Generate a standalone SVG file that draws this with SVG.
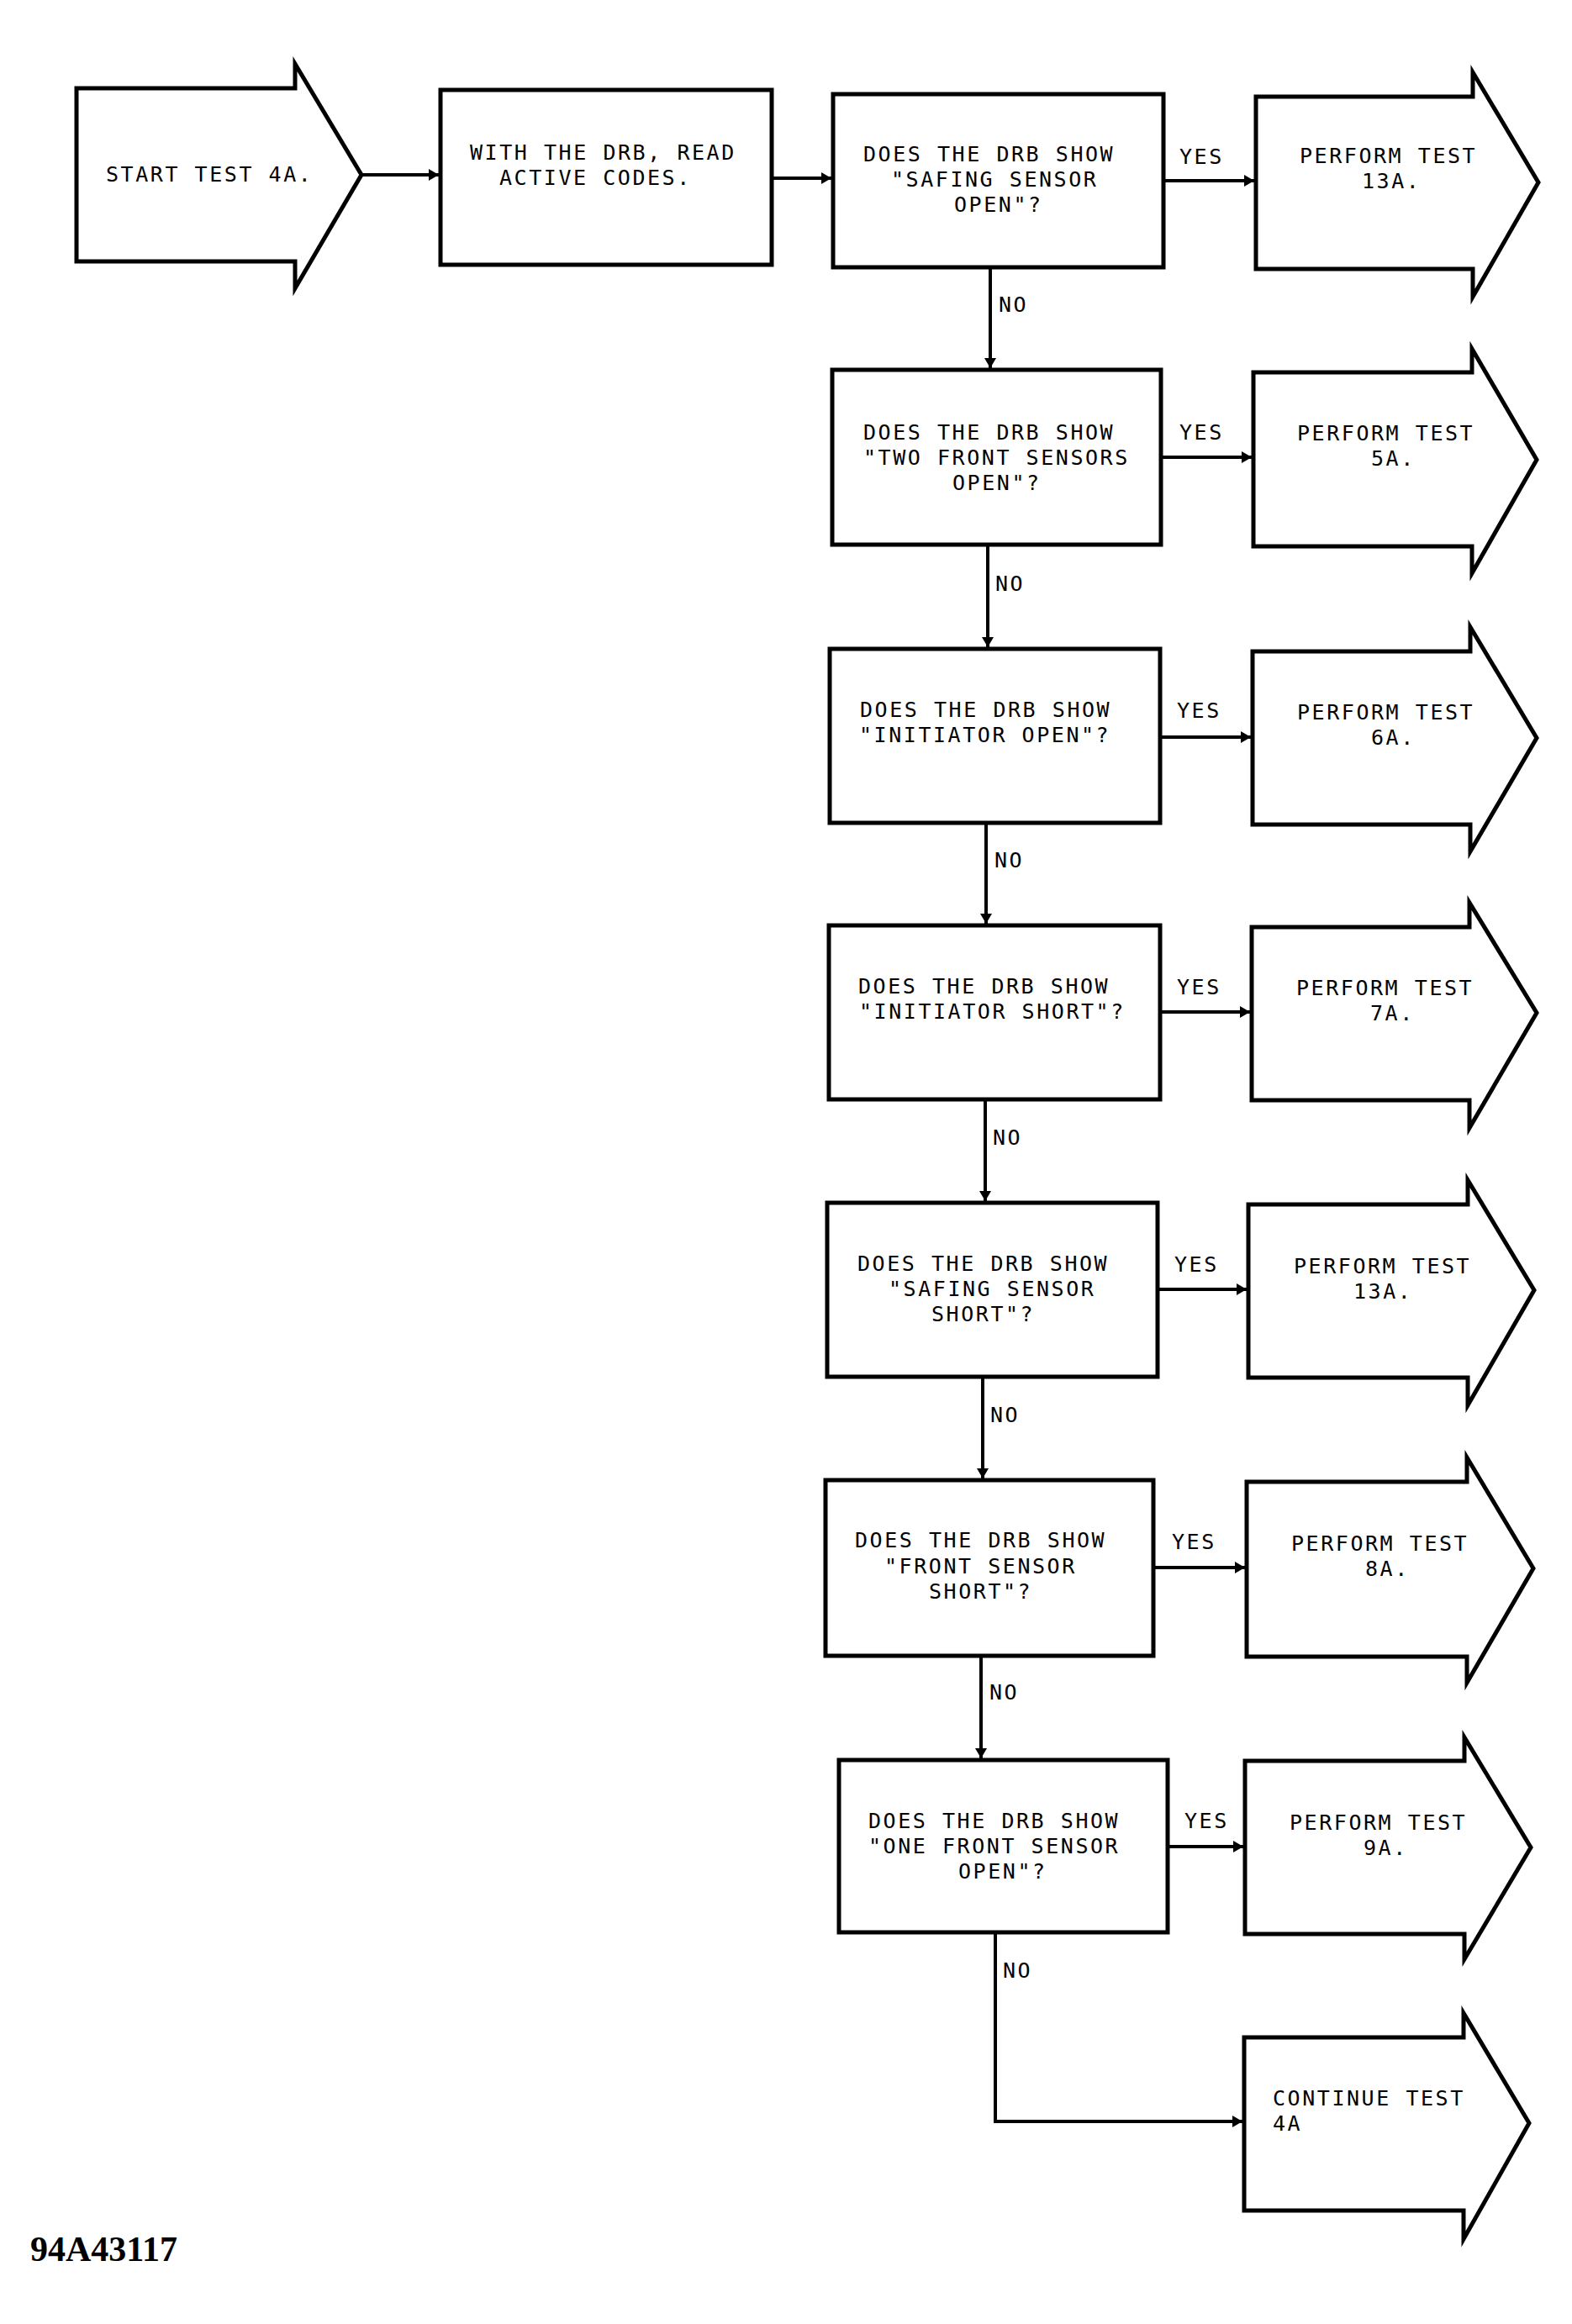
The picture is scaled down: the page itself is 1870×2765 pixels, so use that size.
<svg xmlns="http://www.w3.org/2000/svg" width="1870" height="2765" viewBox="0 0 1870 2765">
<style>
.shape{fill:#fff;stroke:#000;stroke-width:5;stroke-linejoin:miter}
.conn{fill:none;stroke:#000;stroke-width:4}
.t{font-family:"DejaVu Sans Mono","Liberation Mono",monospace;font-size:25px;letter-spacing:2.55px;fill:#000}
.code{font-family:"Liberation Serif","Times New Roman",serif;font-size:42px;font-weight:bold;fill:#000}
</style>
<defs>
<marker id="ah" viewBox="0 0 12 14" refX="12" refY="7" markerWidth="12" markerHeight="14" markerUnits="userSpaceOnUse" orient="auto">
<path d="M0,0 L12,7 L0,14 z" fill="#000"/>
</marker>
</defs>
<rect width="1870" height="2765" fill="#fff"/>

<g id="connectors">
<line class="conn" x1="430" y1="208" x2="522" y2="208" marker-end="url(#ah)"/>
<line class="conn" x1="918" y1="212" x2="989" y2="212" marker-end="url(#ah)"/>
<line class="conn" x1="1384" y1="215" x2="1492" y2="215" marker-end="url(#ah)"/>
<line class="conn" x1="1178" y1="318" x2="1178" y2="438" marker-end="url(#ah)"/>
<line class="conn" x1="1381" y1="544" x2="1489" y2="544" marker-end="url(#ah)"/>
<line class="conn" x1="1175" y1="648" x2="1175" y2="770" marker-end="url(#ah)"/>
<line class="conn" x1="1380" y1="877" x2="1488" y2="877" marker-end="url(#ah)"/>
<line class="conn" x1="1173" y1="979" x2="1173" y2="1099" marker-end="url(#ah)"/>
<line class="conn" x1="1380" y1="1204" x2="1487" y2="1204" marker-end="url(#ah)"/>
<line class="conn" x1="1172" y1="1308" x2="1172" y2="1429" marker-end="url(#ah)"/>
<line class="conn" x1="1377" y1="1534" x2="1483" y2="1534" marker-end="url(#ah)"/>
<line class="conn" x1="1169" y1="1638" x2="1169" y2="1759" marker-end="url(#ah)"/>
<line class="conn" x1="1372" y1="1865" x2="1481" y2="1865" marker-end="url(#ah)"/>
<line class="conn" x1="1167" y1="1970" x2="1167" y2="2092" marker-end="url(#ah)"/>
<line class="conn" x1="1389" y1="2197" x2="1479" y2="2197" marker-end="url(#ah)"/>
<polyline class="conn" points="1184,2299 1184,2524 1478,2524" marker-end="url(#ah)"/>
</g>

<g id="start">
<polygon class="shape" points="91,105 351,105 351,76 430,208 351,343 351,311 91,311"/>
<text class="t" x="126" y="216">START TEST 4A.</text>
</g>

<g id="read-codes">
<rect class="shape" x="524" y="107" width="394" height="208"/>
<text class="t" x="559" y="190">WITH THE DRB, READ</text>
<text class="t" x="594" y="220">ACTIVE CODES.</text>
</g>

<g id="q1">
<rect class="shape" x="991" y="112" width="393" height="206"/>
<text class="t" x="1027" y="192">DOES THE DRB SHOW</text>
<text class="t" x="1060" y="222">"SAFING SENSOR</text>
<text class="t" x="1135" y="252">OPEN"?</text>
</g>
<g id="r1">
<polygon class="shape" points="1494,115 1752,115 1752,86 1830,217 1752,353 1752,320 1494,320"/>
<text class="t" x="1546" y="194">PERFORM TEST</text>
<text class="t" x="1620" y="224">13A.</text>
</g>

<g id="q2">
<rect class="shape" x="990" y="440" width="391" height="208"/>
<text class="t" x="1027" y="523">DOES THE DRB SHOW</text>
<text class="t" x="1027" y="553">"TWO FRONT SENSORS</text>
<text class="t" x="1133" y="583">OPEN"?</text>
</g>
<g id="r2">
<polygon class="shape" points="1491,443 1751,443 1751,415 1828,547 1751,682 1751,650 1491,650"/>
<text class="t" x="1543" y="524">PERFORM TEST</text>
<text class="t" x="1631" y="554">5A.</text>
</g>

<g id="q3">
<rect class="shape" x="987" y="772" width="393" height="207"/>
<text class="t" x="1023" y="853">DOES THE DRB SHOW</text>
<text class="t" x="1022" y="883">"INITIATOR OPEN"?</text>
</g>
<g id="r3">
<polygon class="shape" points="1490,775 1749,775 1749,746 1828,878 1749,1013 1749,981 1490,981"/>
<text class="t" x="1543" y="856">PERFORM TEST</text>
<text class="t" x="1631" y="886">6A.</text>
</g>

<g id="q4">
<rect class="shape" x="986" y="1101" width="394" height="207"/>
<text class="t" x="1021" y="1182">DOES THE DRB SHOW</text>
<text class="t" x="1022" y="1212">"INITIATOR SHORT"?</text>
</g>
<g id="r4">
<polygon class="shape" points="1489,1103 1748,1103 1748,1074 1828,1205 1748,1342 1748,1309 1489,1309"/>
<text class="t" x="1542" y="1184">PERFORM TEST</text>
<text class="t" x="1630" y="1214">7A.</text>
</g>

<g id="q5">
<rect class="shape" x="984" y="1431" width="393" height="207"/>
<text class="t" x="1020" y="1512">DOES THE DRB SHOW</text>
<text class="t" x="1057" y="1542">"SAFING SENSOR</text>
<text class="t" x="1108" y="1572">SHORT"?</text>
</g>
<g id="r5">
<polygon class="shape" points="1485,1433 1746,1433 1746,1404 1825,1535 1746,1672 1746,1639 1485,1639"/>
<text class="t" x="1539" y="1515">PERFORM TEST</text>
<text class="t" x="1610" y="1545">13A.</text>
</g>

<g id="q6">
<rect class="shape" x="982" y="1761" width="390" height="209"/>
<text class="t" x="1017" y="1841">DOES THE DRB SHOW</text>
<text class="t" x="1052" y="1872">"FRONT SENSOR</text>
<text class="t" x="1105" y="1902">SHORT"?</text>
</g>
<g id="r6">
<polygon class="shape" points="1483,1763 1745,1763 1745,1734 1824,1866 1745,2002 1745,1971 1483,1971"/>
<text class="t" x="1536" y="1845">PERFORM TEST</text>
<text class="t" x="1624" y="1875">8A.</text>
</g>

<g id="q7">
<rect class="shape" x="998" y="2094" width="391" height="205"/>
<text class="t" x="1033" y="2175">DOES THE DRB SHOW</text>
<text class="t" x="1033" y="2205">"ONE FRONT SENSOR</text>
<text class="t" x="1140" y="2235">OPEN"?</text>
</g>
<g id="r7">
<polygon class="shape" points="1481,2095 1742,2095 1742,2067 1821,2198 1742,2331 1742,2301 1481,2301"/>
<text class="t" x="1534" y="2177">PERFORM TEST</text>
<text class="t" x="1622" y="2207">9A.</text>
</g>

<g id="continue">
<polygon class="shape" points="1480,2424 1741,2424 1741,2395 1819,2526 1741,2664 1741,2630 1480,2630"/>
<text class="t" x="1514" y="2505">CONTINUE TEST</text>
<text class="t" x="1514" y="2535">4A</text>
</g>

<g id="labels">
<text class="t" x="1403" y="195">YES</text>
<text class="t" x="1403" y="523">YES</text>
<text class="t" x="1400" y="854">YES</text>
<text class="t" x="1400" y="1183">YES</text>
<text class="t" x="1397" y="1513">YES</text>
<text class="t" x="1394" y="1843">YES</text>
<text class="t" x="1409" y="2175">YES</text>
<text class="t" x="1188" y="371">NO</text>
<text class="t" x="1184" y="703">NO</text>
<text class="t" x="1183" y="1032">NO</text>
<text class="t" x="1181" y="1362">NO</text>
<text class="t" x="1178" y="1692">NO</text>
<text class="t" x="1177" y="2022">NO</text>
<text class="t" x="1193" y="2353">NO</text>
</g>

<g id="figure-code">
<text class="code" x="36" y="2690">94A43117</text>
</g>
</svg>
